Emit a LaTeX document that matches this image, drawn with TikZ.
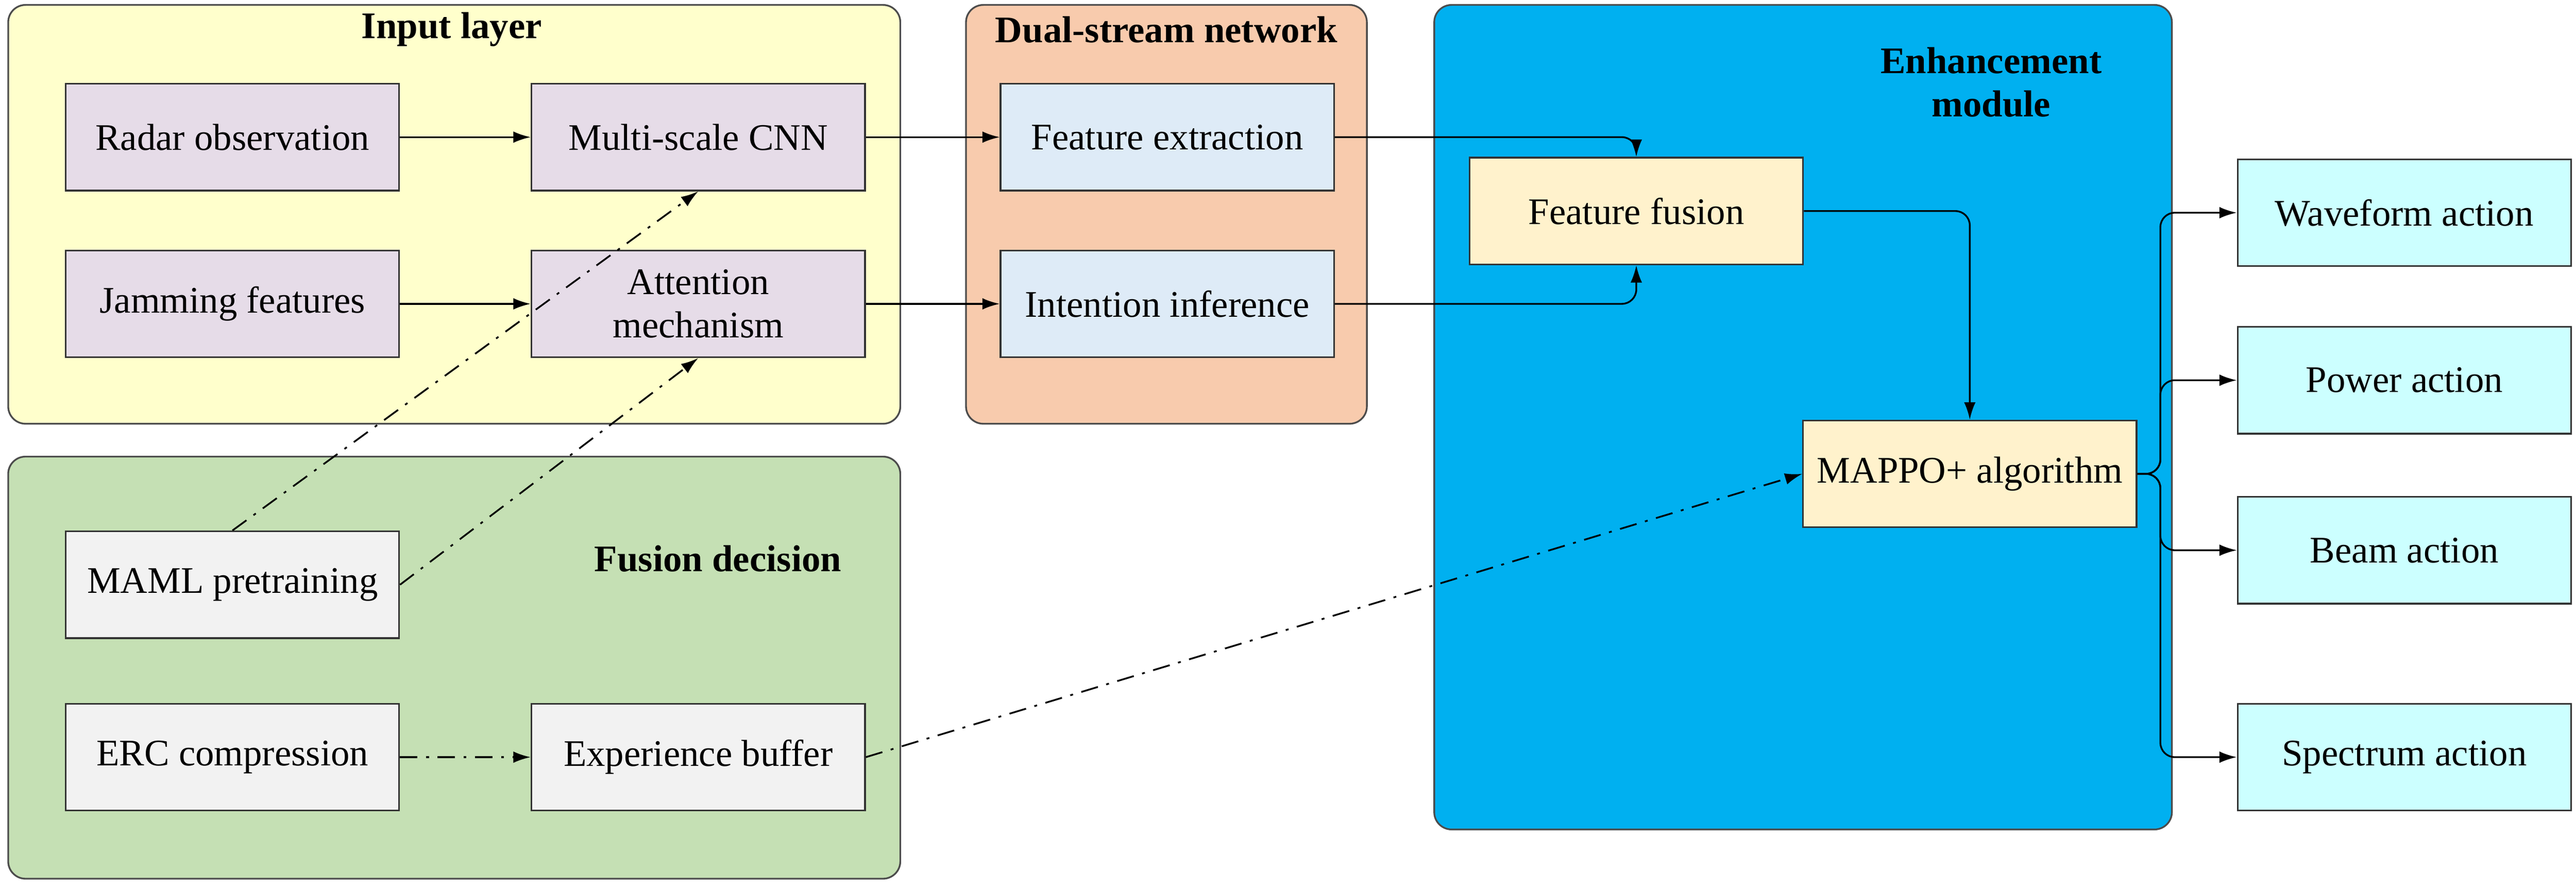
\documentclass[tikz,border=0pt]{standalone}
\usepackage{fontspec}
\setmainfont{Liberation Serif}
\usetikzlibrary{arrows.meta}
\definecolor{inyel}{RGB}{255,255,204}
\definecolor{peach}{RGB}{248,203,173}
\definecolor{enhb}{RGB}{0,176,240}
\definecolor{fgreen}{RGB}{197,224,180}
\definecolor{lpurp}{RGB}{230,220,232}
\definecolor{lblue}{RGB}{222,235,247}
\definecolor{lcream}{RGB}{255,242,204}
\definecolor{lgray}{RGB}{242,242,242}
\definecolor{lcyan}{RGB}{204,255,255}
\tikzset{
 grp/.style={draw=black!70,rounded corners=6pt,line width=0.6pt},
 bx/.style={draw=black!80,line width=0.6pt,minimum width=4.06cm,minimum height=1.3cm,align=center,font=\fontsize{13}{15}\selectfont},
 ttl/.style={font=\bfseries\fontsize{13}{15}\selectfont,align=center},
 ar/.style={-{Latex[length=6pt,width=4pt]},line width=0.6pt},
 dd/.style={ar,dash pattern=on 6pt off 3pt on 1pt off 3pt}
}
\begin{document}
\begin{tikzpicture}[x=0.02cm,y=-0.02cm]
\useasboundingbox (0,0) rectangle (1568,541);
% groups
\draw[grp,fill=inyel] (5,3) rectangle (548,258);
\draw[grp,fill=peach] (588,3) rectangle (832,258);
\draw[grp,fill=enhb] (873,3) rectangle (1322,505);
\draw[grp,fill=fgreen] (5,278) rectangle (548,535);
\node[ttl] (t1) at (275,18) {Input layer};
\node[ttl] (t2) at (710,18) {Dual-stream network};
\node[ttl] (t3) at (1212,50) {Enhancement\\module};
\node[ttl] (t4) at (437,340) {Fusion decision};
% nodes
\node[bx,fill=lpurp] (radar) at (141.5,83.5) {Radar observation};
\node[bx,fill=lpurp] (cnn) at (425,83.5) {Multi-scale CNN};
\node[bx,fill=lpurp] (jam) at (141.5,185) {Jamming features};
\node[bx,fill=lpurp] (att) at (425,185) {Attention\\mechanism};
\node[bx,fill=lblue] (fe) at (710.5,83.5) {Feature extraction};
\node[bx,fill=lblue] (ii) at (710.5,185) {Intention inference};
\node[bx,fill=lcream] (ff) at (996,128.5) {Feature fusion};
\node[bx,fill=lcream] (mappo) at (1199,288.5) {MAPPO+ algorithm};
\node[bx,fill=lgray] (maml) at (141.5,356) {MAML pretraining};
\node[bx,fill=lgray] (erc) at (141.5,461) {ERC compression};
\node[bx,fill=lgray] (eb) at (425,461) {Experience buffer};
\node[bx,fill=lcyan] (wa) at (1463.5,129.5) {Waveform action};
\node[bx,fill=lcyan] (pa) at (1463.5,231.5) {Power action};
\node[bx,fill=lcyan] (ba) at (1463.5,335) {Beam action};
\node[bx,fill=lcyan] (sa) at (1463.5,461) {Spectrum action};
% arrows
\draw[ar] (radar) -- (cnn);
\draw[ar] (jam) -- (att);
\draw[ar] (cnn) -- (fe);
\draw[ar] (att) -- (ii);
\draw[ar,rounded corners=5pt] (fe.east) -| (ff.north);
\draw[ar,rounded corners=5pt] (ii.east) -| (ff.south);
\draw[ar,rounded corners=5pt] (ff.east) -| (mappo.north);
\coordinate (br) at (1315,288.5);
\foreach \a in {wa,pa,ba,sa}
  \draw[ar,rounded corners=5pt] (mappo.east) -- (br) |- (\a.west);
\draw[dd] (maml.north) -- (cnn.south);
\draw[dd] (maml.east) -- (att.south);
\draw[dd] (erc) -- (eb);
\draw[dd] (eb.east) -- (mappo.west);
\end{tikzpicture}
\end{document}
